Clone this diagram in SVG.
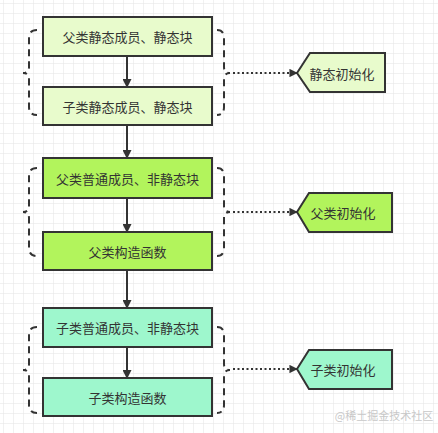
<svg xmlns="http://www.w3.org/2000/svg" width="438" height="433" viewBox="0 0 438 433">
<defs>
<pattern id="grid" width="10" height="10" patternUnits="userSpaceOnUse" x="3" y="3">
<path d="M10 0 L0 0 0 10" fill="none" stroke="#e4e4e4" stroke-width="1"/>
</pattern>
<marker id="arr" viewBox="0 0 10 10" refX="9" refY="5" markerWidth="5.5" markerHeight="4.5" orient="auto" markerUnits="strokeWidth">
<path d="M0 0 L10 5 L0 10 Z" fill="#333"/>
</marker>
<marker id="arr2" viewBox="0 0 10 10" refX="9" refY="5" markerWidth="6.5" markerHeight="4.2" orient="auto" markerUnits="strokeWidth">
<path d="M0 0 L10 5 L0 10 Z" fill="#333"/>
</marker>
</defs>
<style>
.box{stroke:#333;stroke-width:2}
.t{font-family:"Noto Sans CJK SC","Liberation Sans",sans-serif;font-size:13px;fill:#333;text-anchor:middle;dominant-baseline:central}
.g1{fill:#e8fbcc}.g2{fill:#b2f45c}.g3{fill:#9ef7cd}
.brace{fill:none;stroke:#333;stroke-width:2;stroke-dasharray:7,5}
.dot{fill:none;stroke:#333;stroke-width:2;stroke-dasharray:2,2.5}
.line{fill:none;stroke:#333;stroke-width:2}
</style>
<rect width="438" height="433" fill="#fff"/>
<rect width="438" height="433" fill="url(#grid)"/>

<g id="connectors">
<path class="line" d="M127 56 V87" marker-end="url(#arr)"/>
<path class="line" d="M127 125 V158" marker-end="url(#arr)"/>
<path class="line" d="M127 198 V232" marker-end="url(#arr)"/>
<path class="line" d="M127 270 V308" marker-end="url(#arr)"/>
<path class="line" d="M127 347 V378" marker-end="url(#arr)"/>
<path class="dot" d="M233 73 H297" marker-end="url(#arr2)"/>
<path class="dot" d="M233 212 H297" marker-end="url(#arr2)"/>
<path class="dot" d="M233 369 H297" marker-end="url(#arr2)"/>
</g>

<g id="brace1">
<path class="brace" d="M37 30 Q29 30 29 38 V67 Q29 73 23 73 Q29 73 29 79 V107 Q29 115 37 115"/>
<path class="brace" d="M217 30 Q224 30 224 38 V67 Q224 73 230 73 Q224 73 224 79 V107 Q224 115 217 115"/>
</g>
<g id="brace2">
<path class="brace" d="M37 168 Q29 168 29 176 V206 Q29 212 23 212 Q29 212 29 218 V248 Q29 256 37 256"/>
<path class="brace" d="M217 168 Q224 168 224 176 V206 Q224 212 230 212 Q224 212 224 218 V248 Q224 256 217 256"/>
</g>
<g id="brace3">
<path class="brace" d="M37 327 Q29 327 29 335 V364 Q29 370 23 370 Q29 370 29 376 V405 Q29 413 37 413"/>
<path class="brace" d="M217 327 Q224 327 224 335 V364 Q224 370 230 370 Q224 370 224 376 V405 Q224 413 217 413"/>
</g>

<g id="n1"><rect class="box g1" x="43" y="17" width="169" height="39"/><text class="t" x="127.5" y="36.5">父类静态成员、静态块</text></g>
<g id="n2"><rect class="box g1" x="43" y="87" width="169" height="38"/><text class="t" x="127.5" y="106">子类静态成员、静态块</text></g>
<g id="n3"><rect class="box g2" x="43" y="158" width="169" height="40"/><text class="t" x="127.5" y="178">父类普通成员、非静态块</text></g>
<g id="n4"><rect class="box g2" x="43" y="232" width="169" height="38"/><text class="t" x="127.5" y="251">父类构造函数</text></g>
<g id="n5"><rect class="box g3" x="43" y="308" width="169" height="39"/><text class="t" x="127.5" y="327.5">子类普通成员、非静态块</text></g>
<g id="n6"><rect class="box g3" x="43" y="378" width="169" height="38"/><text class="t" x="127.5" y="397">子类构造函数</text></g>

<g id="s1"><path class="box g1" d="M297 73 L310 53 H385 V92 H310 Z"/><text class="t" x="342" y="73">静态初始化</text></g>
<g id="s2"><path class="box g2" d="M297 212 L309 193 H392 V232 H309 Z"/><text class="t" x="343" y="212">父类初始化</text></g>
<g id="s3"><path class="box g3" d="M297 369 L309 350 H392 V389 H309 Z"/><text class="t" x="343" y="369">子类初始化</text></g>

<text x="384" y="415" style="font-family:'Noto Sans CJK SC',sans-serif;font-size:11px;fill:#c8c8c8;text-anchor:middle;dominant-baseline:central">@稀土掘金技术社区</text>
</svg>
